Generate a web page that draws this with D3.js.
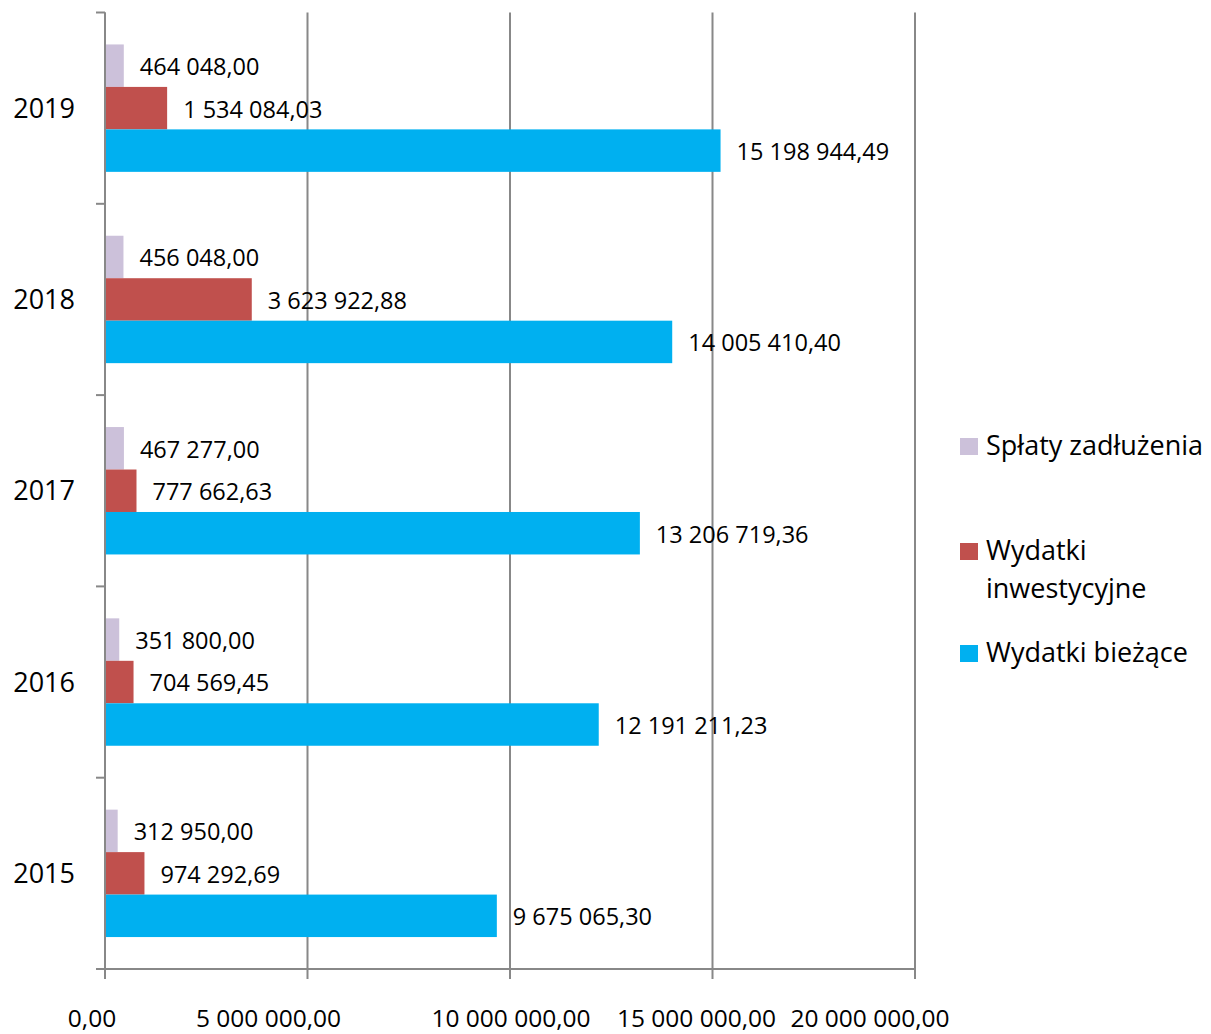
<!DOCTYPE html>
<html>
<head>
<meta charset="utf-8">
<script src="https://cdn.jsdelivr.net/npm/d3@7"></script>
<style>
  body { margin: 0; background: #fff; }
  text { font-family: "Open Sans", sans-serif; fill: #000; }
</style>
</head>
<body>
<div id="chart"></div>
<script>
// years, top to bottom
var years = ["2019", "2018", "2017", "2016", "2015"];
var seriesNames = ["Spłaty zadłużenia", "Wydatki inwestycyjne", "Wydatki bieżące"];
var splaty = [464048.00, 456048.00, 467277.00, 351800.00, 312950.00];
var inwestycyjne = [1534084.03, 3623922.88, 777662.63, 704569.45, 974292.69];
var biezace = [15198944.49, 14005410.40, 13206719.36, 12191211.23, 9675065.30];
var xTicks = [0, 5000000, 10000000, 15000000, 20000000];

var colors = ["#CCC1DA", "#C0504D", "#00B0F0"];
var seriesValues = [splaty, inwestycyjne, biezace];

/*
 * Polish number format: space thousands, comma decimals.
 */
var pl = d3.formatLocale({ decimal: ",", thousands: " ", grouping: [3], currency: ["", ""] });
var fmt = pl.format(",.2f");

var width = 1211, height = 1034;
var plotLeft = 105, plotRight = 915, plotTop = 12.5, plotBottom = 969;

var svg = d3.select("#chart").append("svg")
  .attr("width", width)
  .attr("height", height);

var x = d3.scaleLinear().domain([0, 20000000]).range([plotLeft, plotRight]);

var y0 = d3.scaleBand().domain(years).range([plotTop, plotBottom]);

var y1 = d3.scaleBand().domain(d3.range(seriesNames.length))
  .range([y0.bandwidth() * 0.167, y0.bandwidth() * 0.833]);

var gridColor = "#888888";

/*
 * Vertical gridlines with short ticks below axis.
 */
svg.append("g").selectAll("line")
  .data(xTicks)
  .enter().append("line")
  .attr("x1", function(d) { return x(d); })
  .attr("x2", function(d) { return x(d); })
  .attr("y1", plotTop)
  .attr("y2", plotBottom + 10)
  .attr("stroke", gridColor)
  .attr("stroke-width", 2);

// bottom axis line
svg.append("line")
  .attr("x1", plotLeft - 9).attr("x2", plotRight)
  .attr("y1", plotBottom).attr("y2", plotBottom)
  .attr("stroke", gridColor).attr("stroke-width", 2);

// category boundary ticks on the left
var boundaries = years.map(function(d) { return y0(d); });
svg.append("g").selectAll("line")
  .data(boundaries)
  .enter().append("line")
  .attr("x1", plotLeft - 9).attr("x2", plotLeft)
  .attr("y1", function(d) { return d; })
  .attr("y2", function(d) { return d; })
  .attr("stroke", gridColor).attr("stroke-width", 2);

/*
 * Bars.
 */
var rows = years.map(function(yr, i) {
  return seriesValues.map(function(vals, s) { return { year: yr, s: s, v: vals[i] }; });
});

var groups = svg.append("g").selectAll("g")
  .data(rows)
  .enter().append("g")
  .attr("transform", function(d, i) { return "translate(0," + y0(years[i]) + ")"; });

groups.selectAll("rect")
  .data(function(d) { return d; })
  .enter().append("rect")
  .attr("x", x(0) + 1)
  .attr("y", function(d) { return y1(d.s); })
  .attr("width", function(d) { return x(d.v) - x(0) - 1; })
  .attr("height", y1.bandwidth())
  .attr("fill", function(d) { return colors[d.s]; });

groups.selectAll("text")
  .data(function(d) { return d; })
  .enter().append("text")
  .attr("x", function(d) { return x(d.v) + 16; })
  .attr("y", function(d) { return y1(d.s) + y1.bandwidth() / 2; })
  .attr("dy", "0.4em")
  .style("font-size", "23.5px")
  .text(function(d) { return fmt(d.v); });

// axis line on the left (drawn over bars)
svg.append("line")
  .attr("x1", plotLeft).attr("x2", plotLeft)
  .attr("y1", plotTop).attr("y2", plotBottom + 10)
  .attr("stroke", gridColor).attr("stroke-width", 2);

/*
 * Year labels.
 */
svg.append("g").selectAll("text")
  .data(years)
  .enter().append("text")
  .attr("x", 75)
  .attr("y", function(d) { return y0(d) + y0.bandwidth() / 2; })
  .attr("dy", "0.36em")
  .style("text-anchor", "end")
  .style("font-size", "27px")
  .text(function(d) { return d; });

/*
 * X tick labels.
 */
var tickShift = [-13, -39, 1, -16, -45];
svg.append("g").selectAll("text")
  .data(xTicks)
  .enter().append("text")
  .attr("x", function(d, i) { return x(d) + tickShift[i]; })
  .attr("y", 1027)
  .style("text-anchor", "middle")
  .style("font-size", "24.5px")
  .text(function(d) { return fmt(d); });

/*
 * Legend.
 */
var legendItems = [
  { lines: ["Spłaty zadłużenia"], base: 455 },
  { lines: ["Wydatki", "inwestycyjne"], base: 560 },
  { lines: ["Wydatki bieżące"], base: 662 }
];

var lg = svg.append("g").selectAll("g")
  .data(legendItems)
  .enter().append("g");

lg.append("rect")
  .attr("x", 960)
  .attr("y", function(d) { return d.base - 17; })
  .attr("width", 18)
  .attr("height", 17)
  .attr("fill", function(d, i) { return colors[i]; });

lg.append("text")
  .attr("x", 986)
  .attr("y", function(d) { return d.base; })
  .style("font-size", "27px")
  .selectAll("tspan")
  .data(function(d) { return d.lines; })
  .enter().append("tspan")
  .attr("x", 986)
  .attr("dy", function(d, i) { return i === 0 ? 0 : 38; })
  .text(function(d) { return d; });
</script>
</body>
</html>
